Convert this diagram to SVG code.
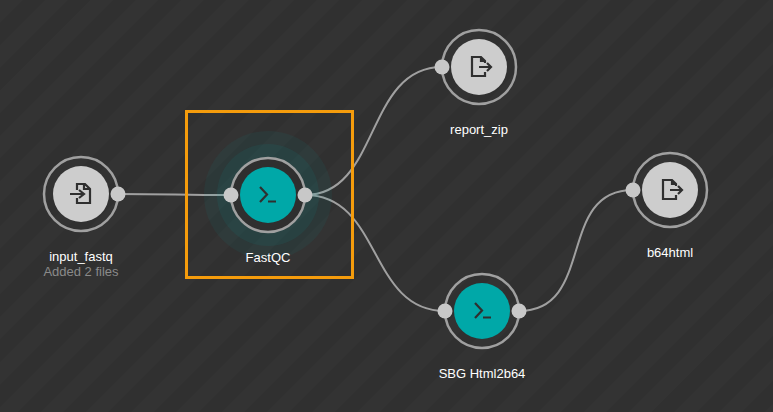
<svg xmlns="http://www.w3.org/2000/svg" width="773" height="412" viewBox="0 0 773 412">
<style>
.ring{fill:none;stroke:#a0a0a0;stroke-width:2.5}
.port{fill:#c8c8c8}
.io{fill:#cdcdcd}
.app{fill:#00a8a8}
.glyph{fill:none;stroke:#2f2f2f;stroke-width:2.2}
.link{fill:none;stroke:#a0a0a0;stroke-width:2}
text{font-family:"Liberation Sans",Arial,sans-serif;font-size:13px;fill:#fff;text-anchor:middle}
.sub{fill:#8a8a8a}
</style>
<defs>
<pattern id="bg" width="32" height="32" patternUnits="userSpaceOnUse" patternTransform="rotate(45)">
<rect width="32" height="32" fill="#303030"/><rect width="16" height="32" fill="#333333"/>
</pattern>
<g id="in-icon"><path class="glyph" d="M-4-4V-10H4L9-5V9H-4V4M3-10V-5H9M-11 0H3M-2-4L3 0L-2 4"/></g>
<g id="out-icon"><path class="glyph" d="M4 5V9H-9V-10H0L4-6V-4M0-10V-6H4M-2 0H10M6-4L10 0L6 4"/></g>
<g id="term"><path class="glyph" d="M-8-8L-1-.5L-8 7M0 6.500H8"/></g>
</defs>
<rect width="773" height="412" fill="url(#bg)"/>
<g id="connectors">
<path class="link" d="M118 194C170 194 180 195 231 195"/>
<path class="link" d="M305 195C380 195 365 67 442 67"/>
<path class="link" d="M305 195C382 195 368 311 445 311"/>
<path class="link" d="M519 311C596 311 556 190 633 190"/>
</g>
<g id="node-input_fastq">
<circle class="ring" cx="81" cy="194" r="37"/><circle class="io" cx="81" cy="194" r="28"/>
<use href="#in-icon" x="81" y="194"/><circle class="port" cx="118" cy="194" r="7.5"/>
<text x="81" y="260.500">input_fastq</text><text class="sub" x="81" y="276">Added 2 files</text>
</g>
<g id="node-FastQC">
<circle cx="268" cy="195" r="64" fill="#00a8a8" opacity=".07"/><circle cx="268" cy="195" r="51" fill="#00a8a8" opacity=".09"/>
<circle cx="268" cy="195" r="37" fill="#2f2f2f"/>
<circle class="ring" cx="268" cy="195" r="37"/><circle class="app" cx="268" cy="195" r="28"/>
<use href="#term" x="268" y="195"/><circle class="port" cx="231" cy="195" r="7.5"/><circle class="port" cx="305" cy="195" r="7.5"/>
<text x="268" y="261.500">FastQC</text>
<rect x="186.500" y="111.500" width="166" height="166" fill="none" stroke="#f59c0c" stroke-width="3"/>
</g>
<g id="node-report_zip">
<circle class="ring" cx="479" cy="67" r="37"/><circle class="io" cx="479" cy="67" r="28"/>
<use href="#out-icon" x="481" y="67"/><circle class="port" cx="442" cy="67" r="7.5"/>
<text x="479" y="134">report_zip</text>
</g>
<g id="node-b64html">
<circle class="ring" cx="670" cy="190" r="37"/><circle class="io" cx="670" cy="190" r="28"/>
<use href="#out-icon" x="672" y="190"/><circle class="port" cx="633" cy="190" r="7.5"/>
<text x="670" y="257">b64html</text>
</g>
<g id="node-SBG_Html2b64">
<circle class="ring" cx="482" cy="311" r="37"/><circle class="app" cx="482" cy="311" r="28"/>
<use href="#term" x="483" y="311"/><circle class="port" cx="445" cy="311" r="7.5"/><circle class="port" cx="519" cy="311" r="7.5"/>
<text x="482" y="378">SBG Html2b64</text>
</g>
</svg>
